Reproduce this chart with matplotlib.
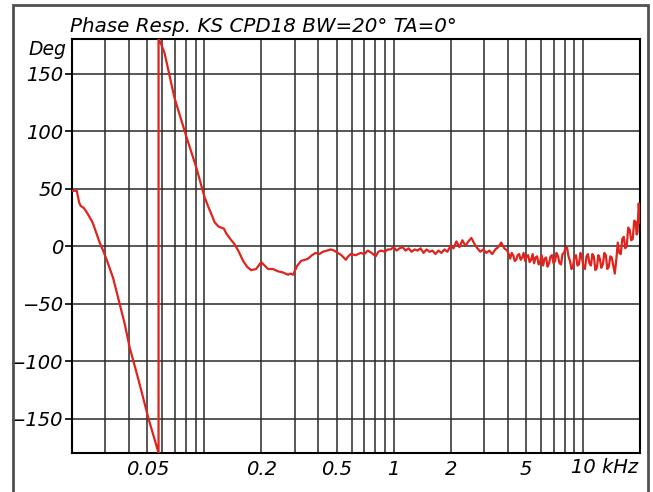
import matplotlib
matplotlib.use("Agg")
import matplotlib.pyplot as plt
import matplotlib.transforms as mtransforms
from matplotlib.patches import Rectangle

# phase response (frequency in kHz, phase in degrees)
freq_low = [0.0200, 0.0212, 0.0218, 0.0222, 0.0231, 0.0240, 0.0248, 0.0256, 0.0264,
            0.0280, 0.0292, 0.0305, 0.0330, 0.0353, 0.0380, 0.0403, 0.0450, 0.0507,
            0.0573]
phase_low = [48, 48, 38, 35, 33, 29, 25, 21, 15,
             3, -4, -12, -28, -47, -68, -88, -117, -150,
             -180]

freq_mid = [0.0573, 0.0590, 0.0616, 0.0695, 0.0804, 0.0908, 0.100, 0.105, 0.110,
            0.113, 0.1185, 0.1229, 0.127, 0.1305, 0.1387, 0.1438, 0.151, 0.1604,
            0.168, 0.1767, 0.1877, 0.1995, 0.208, 0.2173, 0.230, 0.245, 0.260,
            0.2767, 0.285, 0.294, 0.310, 0.324, 0.340, 0.353, 0.370, 0.388, 0.405,
            0.423, 0.445, 0.466, 0.485, 0.507, 0.530, 0.559, 0.575, 0.594, 0.630,
            0.670, 0.700, 0.730, 0.765, 0.804, 0.830, 0.855, 0.900, 0.930]
phase_mid = [180, 176, 168, 129, 95, 68, 43, 34, 26,
             21, 17, 16, 15, 11, 5, 2, -4, -13,
             -18, -21, -20, -14, -17, -20, -20, -22, -23,
             -25, -24, -25, -17, -13, -12, -11, -8, -6, -7,
             -5, -4, -3, -4, -6, -8, -12, -9, -7, -8,
             -6, -7, -4, -6, -9, -5, -4, -5, -3]

freq_high = [0.964, 1.000, 1.037, 1.075, 1.115, 1.156, 1.199, 1.243, 1.289, 1.337,
             1.387, 1.438, 1.491, 1.546, 1.603, 1.663, 1.724, 1.788, 1.854, 1.923,
             1.995, 2.069, 2.145, 2.225, 2.307, 2.392, 2.481, 2.573, 2.668, 2.767,
             2.869, 2.975, 3.085, 3.199, 3.318, 3.441, 3.568, 3.700, 3.837]
phase_high = [-3, -1, -4, -2, -1, -4, -2, -5, -3, -4,
              -2, -6, -3, -5, -4, -7, -4, -6, -3, -5,
              0, -2, 4, -1, 5, 0, 4, 7, 2, -2,
              -5, -3, -6, -4, -7, -3, -1, 3, -2]

freq_top = [3.979, 4.052, 4.126, 4.202, 4.279, 4.357, 4.437, 4.518, 4.601, 4.685,
            4.772, 4.859, 4.948, 5.039, 5.132, 5.226, 5.321, 5.419, 5.518, 5.619,
            5.723, 5.828, 5.934, 6.043, 6.154, 6.267, 6.382, 6.499, 6.618, 6.739,
            6.863, 6.989, 7.117, 7.247, 7.381, 7.516, 7.654, 7.794, 7.937, 8.082,
            8.231, 8.382, 8.536, 8.692, 8.852, 9.014, 9.180, 9.348, 9.519, 9.693,
            9.872, 10.05, 10.24, 10.43, 10.62, 10.81, 11.01, 11.21, 11.41, 11.62,
            11.84, 12.05, 12.27, 12.49, 12.73, 12.96, 13.20, 13.44, 13.69, 13.94,
            14.19, 14.45, 14.72, 14.99, 15.26, 15.54, 15.83, 16.12, 16.42, 16.72,
            17.02, 17.33, 17.65, 17.97, 18.31, 18.64, 18.99, 19.20, 19.40, 19.69,
            20.0]
phase_top = [-4, -7, -11, -6, -8, -13, -12, -8, -7, -12,
             -10, -6, -13, -9, -8, -14, -12, -7, -15, -10,
             -9, -16, -14, -8, -17, -11, -10, -18, -15, -9,
             -8, -15, -13, -6, -9, -15, -16, -7, -6, -2,
             -1, -9, -13, -20, -18, -9, -8, -17, -16, -6,
             -10, -18, -20, -9, -7, -15, -17, -7, -9, -21,
             -19, -8, -11, -19, -16, -6, -8, -20, -18, -9,
             -10, -17, -24, -12, 3, -6, -7, 6, 8, -2,
             0, 16, 14, 5, 6, 22, 21, 10, 12, 37,
             20]

freq = freq_low + freq_mid + freq_high + freq_top
phase = phase_low + phase_mid + phase_high + phase_top

x_grid = [0.03, 0.04, 0.05, 0.06, 0.07, 0.08, 0.09, 0.1,
          0.2, 0.3, 0.4, 0.5, 0.6, 0.7, 0.8, 0.9, 1,
          2, 3, 4, 5, 6, 7, 8, 9, 10]
x_labels = {0.05: "0.05", 0.2: "0.2", 0.5: "0.5", 1: "1", 2: "2", 5: "5"}
y_ticks = [-150, -100, -50, 0, 50, 100, 150]

plt.rcParams['font.family'] = ['DejaVu Sans']
plt.rcParams['font.style'] = 'oblique'

W, H = 653, 492
fig = plt.figure(figsize=(W / 100, H / 100), dpi=100)
ax = fig.add_axes([72 / W, 1 - 453 / H, (640 - 72) / W, (453 - 39) / H])

ax.plot(freq, phase, color='#e0231c', lw=1.6, zorder=3)

ax.set_xscale('log')
ax.set_xlim(0.02, 20)
ax.set_ylim(-180, 180)
ax.minorticks_off()
ax.set_xticks(x_grid, labels=[x_labels.get(v, "") for v in x_grid])
ax.set_yticks(y_ticks)
ax.grid(True, color='#2a2a2a', lw=1.1)
ax.tick_params(axis='x', length=0, pad=5, labelsize=14)
ax.tick_params(axis='y', length=5, width=1.2, direction='out', pad=1, labelsize=14)
for s in ax.spines.values():
    s.set_linewidth(1.5)
    s.set_color('black')

trans = mtransforms.blended_transform_factory(ax.transAxes, ax.transData)
ax.text(-0.01, 171, "Deg", transform=trans, ha='right', va='center', fontsize=13.5)
# the last label carries the unit, set slightly left of its gridline like the original
trans_x = mtransforms.blended_transform_factory(ax.transData, ax.transAxes)
ax.text(8.6, -0.012, "10 kHz", transform=trans_x, ha='left', va='top', fontsize=14)

fig.text(70 / W, 1 - 32 / H, "Phase Resp. KS CPD18 BW=20° TA=0°",
         ha='left', va='baseline', fontsize=14.3)

fig.add_artist(Rectangle((13 / W, -0.1), (648 - 13) / W, 1.1 - 5 / H,
                         transform=fig.transFigure, fill=False, ec='#505050', lw=2))

fig.savefig("out.png", dpi=100)
